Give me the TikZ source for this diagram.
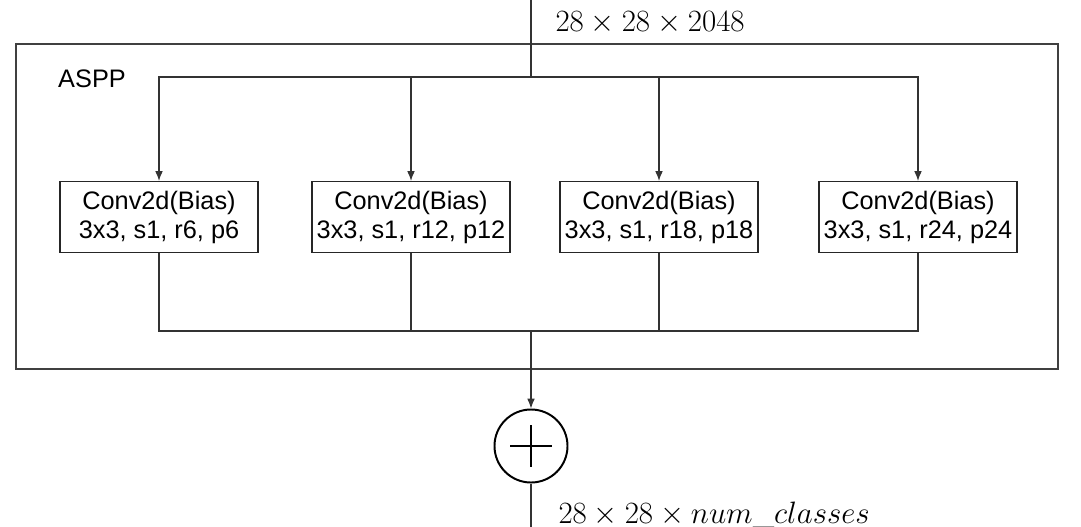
\RequirePackage{fix-cm}
\documentclass[tikz,border=0pt]{standalone}
\usepackage{fontspec}
\newfontfamily\boxfont{Liberation Sans}
\usetikzlibrary{arrows.meta}

\tikzset{
  frame/.style={draw=black!75, line width=1pt, minimum width=26.05cm, minimum height=8.125cm, inner sep=0pt},
  convbox/.style={draw=black!85, line width=0.8pt, minimum width=4.95cm, minimum height=1.775cm, inner sep=0pt,
    align=center, font=\boxfont\fontsize{18}{20.6}\selectfont},
  sumnode/.style={circle, draw=black, line width=1.4pt, minimum size=1.825cm, inner sep=0pt},
  dimlabel/.style={anchor=base west, inner sep=0pt, font=\fontsize{22}{26}\selectfont}
}

\begin{document}
\begin{tikzpicture}[x=0.025cm, y=-0.025cm, line width=0.8pt, draw=black!80,
    >={Latex[length=7pt,width=5.5pt]}]
    \def\ysplit{77}
    \def\ymerge{331}
    \useasboundingbox (0,0) rectangle (1081,527);

    \node[frame] (aspp) at (537,206.5) {};
    \node[font=\boxfont\fontsize{18}{20.6}\selectfont, inner sep=0pt] (asppname) at (92,79) {ASPP};

    \coordinate (in) at (531,0);
    \coordinate (split) at (531,\ysplit);
    \coordinate (merge) at (531,\ymerge);
    \coordinate (out) at (531,527);

    \node[convbox] (r6)  at (159,217) {Conv2d(Bias)\\3x3, s1, r6, p6};
    \node[convbox] (r12) at (411,217) {Conv2d(Bias)\\3x3, s1, r12, p12};
    \node[convbox] (r18) at (659,217) {Conv2d(Bias)\\3x3, s1, r18, p18};
    \node[convbox] (r24) at (918,217) {Conv2d(Bias)\\3x3, s1, r24, p24};

    \node[sumnode] (sum) at (531,446) {};

    \draw (in) -- (split);
    \foreach \b in {r6,r12,r18,r24}
        \draw[->] (split) -| (\b.north);
    \foreach \b in {r6,r12,r18,r24}
        \draw (\b.south) |- (merge);
    \draw[->] (merge) -- (sum.north);
    \draw (sum.south) -- (out);
    \draw[draw=black, line width=1.4pt] (sum.center) +(-21,0) -- +(21,0)
        (sum.center) +(0,-21) -- +(0,21);

    \node[dimlabel] (inlabel) at (555,31) {$28 \times 28 \times 2048$};
    \node[dimlabel] (outlabel) at (558,523) {$28 \times 28 \times num\_classes$};

\end{tikzpicture}
\end{document}
